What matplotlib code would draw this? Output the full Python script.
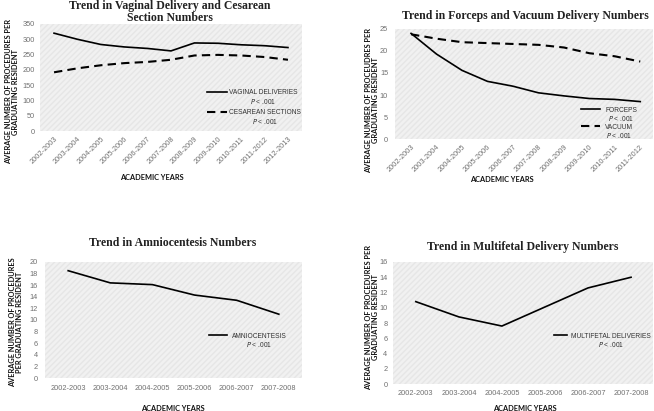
import numpy as np
import matplotlib
matplotlib.use('Agg')
import matplotlib.pyplot as plt
from matplotlib.patches import Rectangle

# data
years1 = ['2002-2003', '2003-2004', '2004-2005', '2005-2006', '2006-2007', '2007-2008',
          '2008-2009', '2009-2010', '2010-2011', '2011-2012', '2012-2013']
vaginal = [320, 300, 283, 275, 270, 262, 288, 287, 282, 279, 273]
cesarean = [192, 205, 215, 222, 226, 233, 247, 249, 247, 242, 233]

years2 = ['2002-2003', '2003-2004', '2004-2005', '2005-2006', '2006-2007', '2007-2008',
          '2008-2009', '2009-2010', '2010-2011', '2011-2012']
forceps = [24, 19.3, 15.6, 13.1, 12.0, 10.5, 9.8, 9.2, 9.0, 8.5]
vacuum = [23.8, 22.8, 22.0, 21.8, 21.6, 21.4, 20.8, 19.5, 18.8, 17.6]

years3 = ['2002-2003', '2003-2004', '2004-2005', '2005-2006', '2006-2007', '2007-2008']
amnio = [18.5, 16.4, 16.1, 14.3, 13.4, 11.0]
multifetal = [10.8, 8.8, 7.6, 10.1, 12.6, 14.0]

W, H = 654, 411
fig = plt.figure(figsize=(W / 100, H / 100), dpi=100)
fig.patch.set_facecolor('white')

TITLE = dict(family='Liberation Serif', fontweight='bold', fontsize=8.5, color='#222222')
LAB = dict(family='Lato', fontweight='bold', fontsize=5.3, color='#111111')
TICK = dict(family='Liberation Sans', fontsize=5.3, color='#707070')
LEGSIZE = 4.8


def px_axes(x0, y0, x1, y1):
    # pixel box (top-left origin) -> axes
    return fig.add_axes([x0 / W, 1 - y1 / H, (x1 - x0) / W, (y1 - y0) / H])


def style(ax, ymax, step, n, labels, rot, ypad, xpad):
    ax.set_facecolor('#f1f1f1')
    ax.add_patch(Rectangle((0, 0), 1, 1, transform=ax.transAxes, fill=False,
                           hatch='//////', edgecolor='#e6e6e6', lw=0, zorder=0))
    for s in ax.spines.values():
        s.set_visible(False)
    ax.set_ylim(0, ymax)
    ax.set_yticks(np.arange(0, ymax + 0.1, step))
    ax.tick_params(length=0)
    ax.tick_params(axis='y', pad=ypad)
    ax.tick_params(axis='x', pad=xpad)
    for t in ax.get_yticklabels():
        t.set(**TICK)
    ax.set_xticks(range(n))
    ax.set_xticklabels(labels, rotation=rot, ha='right' if rot else 'center',
                       rotation_mode='anchor' if rot else 'default', **TICK)


legends = []


def legend(ax, anchor, hl, pad, gap=1.0):
    lg = ax.legend(loc='upper left', bbox_to_anchor=anchor, frameon=False,
                   prop=dict(family='Liberation Sans', size=LEGSIZE),
                   handlelength=hl, handletextpad=pad, labelspacing=gap,
                   borderaxespad=0, borderpad=0)
    for t in lg.get_texts():
        t.set_color('#333333')
    legends.append(lg)


# panel 1
ax1 = px_axes(40, 24, 302, 131)
x = np.arange(len(years1))
ax1.plot(x, vaginal, color='black', lw=1.2, label='VAGINAL DELIVERIES')
ax1.plot(x, cesarean, color='black', lw=1.5, ls=(0, (4, 2.5)), label='CESAREAN SECTIONS')
ax1.set_xlim(-0.6, len(years1) - 1 + 0.6)
style(ax1, 350, 50, len(years1), years1, 45, 3.6, 3.5)
legend(ax1, (0.637, 0.388), 3.0, 0.3, gap=1.9)
fig.text(170 / W, 1 - 12 / H, 'Trend in Vaginal Delivery and Cesarean\nSection Numbers',
         ha='center', va='center', linespacing=0.95, **TITLE)
fig.text(152 / W, 1 - 177 / H, 'ACADEMIC YEARS', ha='center', va='center', **LAB)
fig.text(12 / W, 1 - 92 / H, 'AVERAGE NUMBER OF PROCEDURES PER\nGRADUATING RESIDENT',
         ha='center', va='center', rotation=90, linespacing=1.0, **LAB)

# panel 2
ax2 = px_axes(395, 29, 653, 139)
x = np.arange(len(years2))
ax2.plot(x, forceps, color='black', lw=1.2, label='FORCEPS')
ax2.plot(x, vacuum, color='black', lw=1.5, ls=(0, (4, 2.5)), label='VACUUM')
ax2.set_xlim(-0.63, len(years2) - 1 + 0.5)
style(ax2, 25, 5, len(years2), years2, 45, 5, 3.5)
legend(ax2, (0.721, 0.295), 2.85, 0.75, gap=1.5)
fig.text(525 / W, 1 - 16 / H, 'Trend in Forceps and Vacuum Delivery Numbers',
         ha='center', va='center', **TITLE)
fig.text(502 / W, 1 - 179 / H, 'ACADEMIC YEARS', ha='center', va='center', **LAB)
fig.text(372 / W, 1 - 100 / H, 'AVERAGE NUMBER OF PROCEUDRES PER\nGRADUATING RESIDENT',
         ha='center', va='center', rotation=90, linespacing=1.0, **LAB)

# panel 3
ax3 = px_axes(45, 262, 302, 378)
x = np.arange(len(years3))
ax3.plot(x, amnio, color='black', lw=1.2, label='AMNIOCENTESIS')
ax3.set_xlim(-0.55, len(years3) - 1 + 0.55)
style(ax3, 20, 2, len(years3), years3, 0, 5, 5)
legend(ax3, (0.638, 0.392), 2.7, 0.75)
fig.text(173 / W, 1 - 243 / H, 'Trend in Amniocentesis Numbers',
         ha='center', va='center', **TITLE)
fig.text(173 / W, 1 - 408 / H, 'ACADEMIC YEARS', ha='center', va='center', **LAB)
fig.text(16 / W, 1 - 322 / H, 'AVERAGE NUMBER OF PROCEDURES\nPER GRADUATING RESIDENT',
         ha='center', va='center', rotation=90, linespacing=1.0, **LAB)

# panel 4
ax4 = px_axes(393, 262, 653, 384)
x = np.arange(len(years3))
ax4.plot(x, multifetal, color='black', lw=1.2, label='MULTIFETAL DELIVERIES')
ax4.set_xlim(-0.53, len(years3) - 1 + 0.51)
style(ax4, 16, 2, len(years3), years3, 0, 4, 4)
legend(ax4, (0.619, 0.422), 2.0, 0.6)
fig.text(523 / W, 1 - 247 / H, 'Trend in Multifetal Delivery Numbers',
         ha='center', va='center', **TITLE)
fig.text(525 / W, 1 - 408 / H, 'ACADEMIC YEARS', ha='center', va='center', **LAB)
fig.text(372 / W, 1 - 317 / H, 'AVERAGE NUMBER OF PROCEDURES PER\nGRADUATING RESIDENT',
         ha='center', va='center', rotation=90, linespacing=1.0, **LAB)

# "P < .001" line centred under each legend label
fig.canvas.draw()
r = fig.canvas.get_renderer()
for lg in legends:
    for t in lg.get_texts():
        bb = t.get_window_extent(r)
        fig.text((bb.x0 + bb.x1) / 2 / W, (bb.y0 - 0.5) / H, '$\\it{P}$ < .001',
                 ha='center', va='top', family='Liberation Sans', fontsize=LEGSIZE,
                 color='#333333')

fig.savefig('out.png', dpi=100, facecolor='white')
